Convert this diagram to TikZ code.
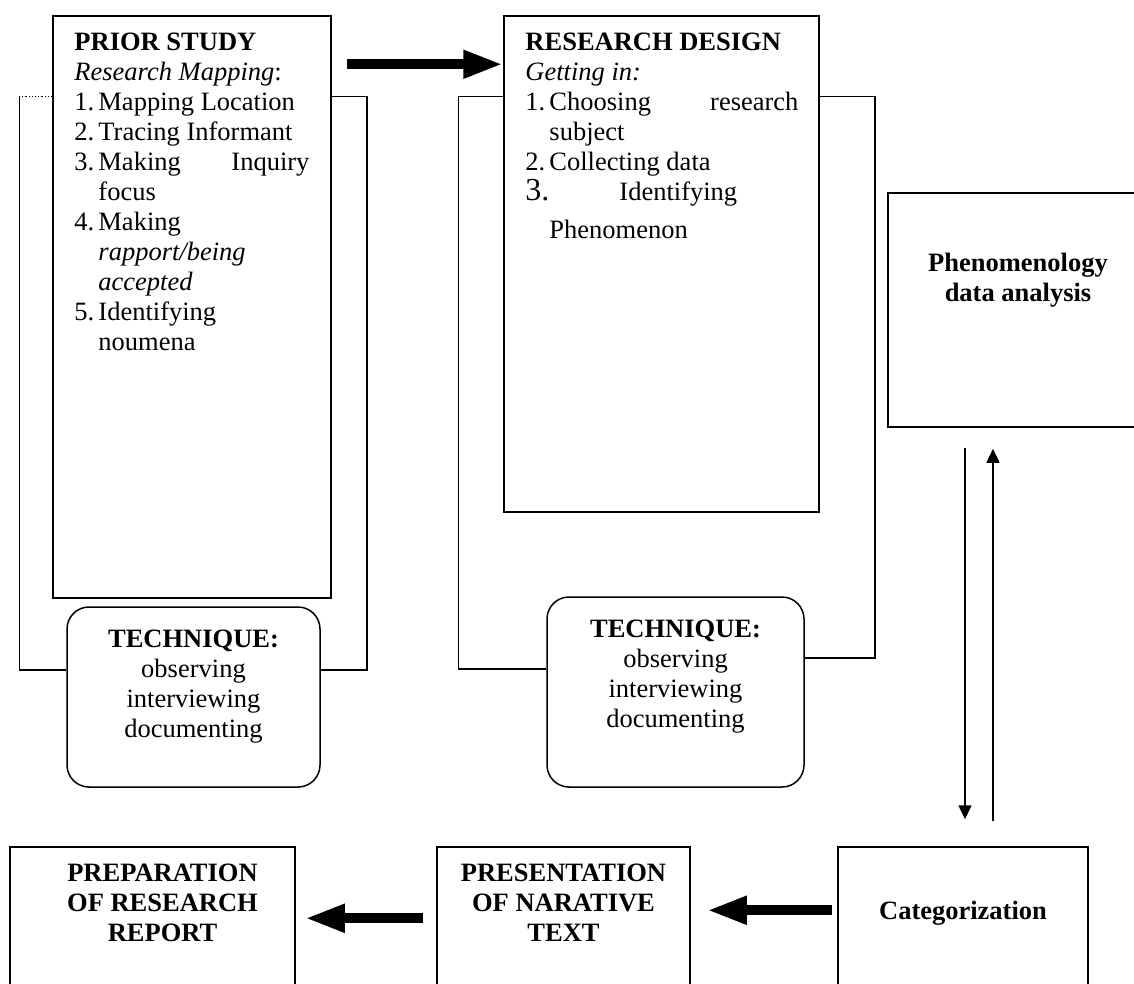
\documentclass[tikz,border=0pt]{standalone}
\usepackage{fontspec}
\setmainfont{Liberation Serif}
\usetikzlibrary{positioning, arrows.meta}

\newcommand{\litem}[2]{\par\noindent\hangindent=24pt\hangafter=1\makebox[24pt][l]{#1}#2}

\begin{document}
\begin{tikzpicture}[x=1pt, y=-1pt,
    box/.style={rectangle, draw, line width=1.5pt, inner sep=0pt},
    techbox/.style={rectangle, rounded corners=22pt, draw, line width=1.5pt, inner sep=0pt},
    txt/.style={inner sep=0pt, font=\fontsize{26.5}{30}\selectfont},
    fatarrow/.style={line width=10pt, -{Triangle[length=40pt, width=26pt]}},
    slimarrow/.style={line width=1.5pt, -{Triangle[length=14pt, width=13pt]}},
    bracket/.style={line width=1.5pt}]

\useasboundingbox (0,0) rectangle (1134,983);
\clip (0,0) rectangle (1134,983);

\node[box, minimum height = 582pt, minimum width = 278pt] (prior) at (192, 307) {};
\node[box, minimum height = 496pt, minimum width = 315pt] (research) at (661.5, 264) {};
\node[box, minimum height = 234pt, minimum width = 260pt] (phen) at (1018, 310) {};

\node[techbox, minimum height = 180pt, minimum width = 253pt] (tech1) at (193.5, 697) {};
\node[techbox, minimum height = 190pt, minimum width = 257pt] (tech2) at (675.5, 692) {};

\node[box, minimum height = 153pt, minimum width = 285pt] (prep) at (152.5, 923.5) {};
\node[box, minimum height = 153pt, minimum width = 253pt] (pres) at (563.5, 923.5) {};
\node[box, minimum height = 153pt, minimum width = 250pt] (cat) at (963, 923.5) {};

% texts
\node[txt, text width = 235pt, align = justify, anchor = north west] (priortext) at ([xshift=22pt, yshift=-18pt]prior.north west) {%
    \textbf{PRIOR STUDY}\newline
    \textit{Research Mapping}:
    \litem{1.}{Mapping Location}
    \litem{2.}{Tracing Informant}
    \litem{3.}{Making Inquiry\linebreak focus}
    \litem{4.}{Making\newline \textit{rapport/being}\newline \textit{accepted}}
    \litem{5.}{Identifying\newline noumena}\par};

\node[txt, text width = 273pt, align = justify, anchor = north west] (restext) at ([xshift=22pt, yshift=-18pt]research.north west) {%
    \textbf{RESEARCH DESIGN}\newline
    \textit{Getting in:}
    \litem{1.}{Choosing research\linebreak subject}
    \litem{2.}{Collecting data}
    \par\noindent\hangindent=24pt\hangafter=1\makebox[94pt][l]{\fontsize{32}{30}\selectfont 3.}Identifying\vadjust{\vskip 8pt}\newline Phenomenon\par};

\node[txt, align = center, anchor = north] (phentext) at ([yshift=-61pt]phen.north) {\textbf{Phenomenology}\\ \textbf{data analysis}};

\node[txt, align = center, anchor = north] (tech1text) at ([yshift=-23pt]tech1.north) {\textbf{TECHNIQUE:}\\ observing\\ interviewing\\ documenting};
\node[txt, align = center, anchor = north] (tech2text) at ([yshift=-23pt]tech2.north) {\textbf{TECHNIQUE:}\\ observing\\ interviewing\\ documenting};

\node[txt, align = center, anchor = north] (preptext) at ([xshift=10pt, yshift=-17pt]prep.north) {\textbf{PREPARATION}\\ \textbf{OF RESEARCH}\\ \textbf{REPORT}};
\node[txt, align = center, anchor = north] (prestext) at ([yshift=-17pt]pres.north) {\textbf{PRESENTATION}\\ \textbf{OF NARATIVE}\\ \textbf{TEXT}};
\node[txt, align = center, anchor = north] (cattext) at ([yshift=-55pt]cat.north) {\textbf{Categorization}};

% brackets round the techniques
\draw[dotted, line width=1.2pt] ([yshift=-81pt]prior.north west) -- ++(-33,0) coordinate (pbl);
\draw[bracket] (pbl) |- ([yshift=27pt]tech1.west);
\draw[bracket] ([yshift=-81pt]prior.north east) -- ++(35,0) |- ([yshift=27pt]tech1.east);

\draw[bracket] ([yshift=-81pt]research.north west) -- ++(-45,0) |- ([yshift=23pt]tech2.west);
\draw[bracket] ([yshift=-81pt]research.north east) -- ++(55,0) |- ([yshift=34pt]tech2.east);

% arrows
\draw[fatarrow] ([xshift=15pt, yshift=-49pt]prior.north east) -- ([yshift=-49pt]research.north west);

\draw[slimarrow] ([xshift=-53pt, yshift=-20pt]phen.south) -- ([xshift=-53pt, yshift=27pt]phen.south |- cat.north);
\draw[slimarrow] ([xshift=-25pt, yshift=25pt]phen.south |- cat.north) -- ([xshift=-25pt, yshift=-21pt]phen.south);

\draw[fatarrow] ([xshift=-5pt, yshift=-64pt]cat.north west) -- ([xshift=16pt, yshift=-64pt]pres.north east);
\draw[fatarrow] ([xshift=-13pt, yshift=-72pt]pres.north west) -- ([xshift=9pt, yshift=-72pt]prep.north east);

\end{tikzpicture}
\end{document}
